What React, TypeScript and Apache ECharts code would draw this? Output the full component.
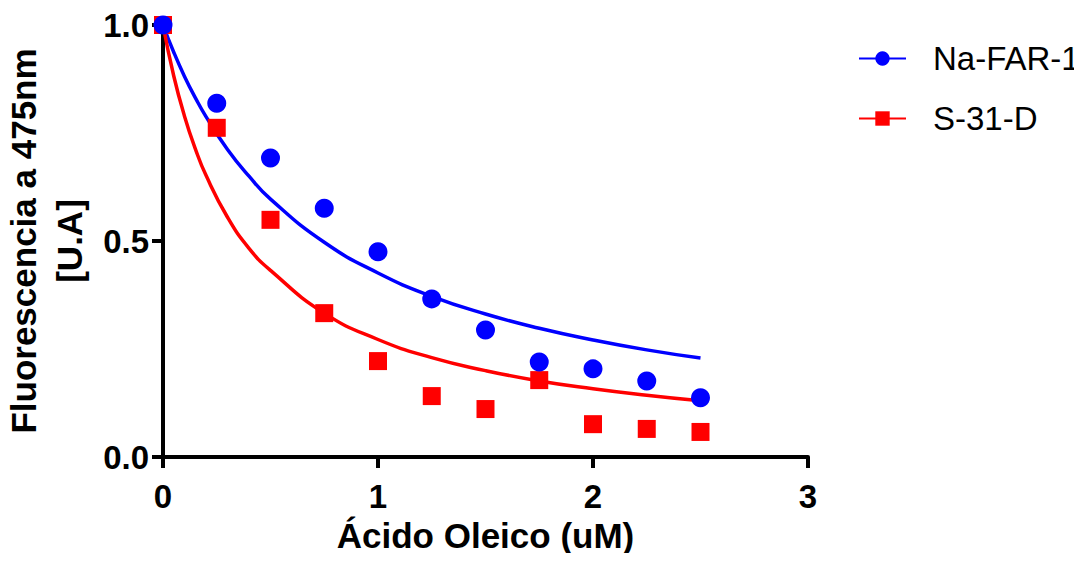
import React, { useEffect, useRef } from "react";
import * as echarts from "echarts";

const concentrations = [0, 0.25, 0.5, 0.75, 1, 1.25, 1.5, 1.75, 2, 2.25, 2.5];
const naFar1 = [1.0, 0.819, 0.692, 0.576, 0.475, 0.366, 0.294, 0.22, 0.204, 0.176, 0.137];
const s31d = [1.0, 0.762, 0.549, 0.333, 0.222, 0.141, 0.111, 0.178, 0.076, 0.065, 0.058];

const fitX = [0, 0.05, 0.1, 0.15, 0.2, 0.3, 0.4, 0.5, 0.75, 1, 1.25, 1.5, 1.75, 2, 2.25, 2.5];
const naFar1Fit = [1.0, 0.937, 0.881, 0.832, 0.788, 0.712, 0.65, 0.597, 0.497, 0.426, 0.372, 0.331, 0.298, 0.271, 0.248, 0.229];
const s31dFit = [1.0, 0.882, 0.789, 0.714, 0.652, 0.555, 0.483, 0.432, 0.333, 0.272, 0.23, 0.2, 0.176, 0.158, 0.143, 0.13];

const xTicks = [0, 1, 2, 3];
const yTicks = [0, 0.5, 1.0];

const BLUE = "#0000ff";
const RED = "#ff0000";
const FONT = "Arial, 'Liberation Sans', sans-serif";

export default function App() {
  const ref = useRef<HTMLDivElement>(null);
  useEffect(() => {
    if (!ref.current) return;
    const chart = echarts.init(ref.current, null, { renderer: "svg" });
    const pair = (xs: number[], ys: number[]) => xs.map((x, i) => [x, ys[i]]);
    chart.setOption({
      animation: false,
      backgroundColor: "#ffffff",
      grid: { left: 163, top: 25, right: 274, bottom: 104, containLabel: false, outerBoundsMode: "none" },
      legend: {
        data: ["Na-FAR-1", "S-31-D"],
        orient: "vertical",
        left: 853,
        top: 37,
        itemWidth: 47,
        itemHeight: 18,
        itemGap: 27,
        textStyle: { fontFamily: FONT, fontSize: 33, color: "#000", padding: [0, 0, 0, 22] },
      },
      xAxis: {
        type: "value",
        min: 0,
        max: 3,
        interval: 1,
        name: "Ácido Oleico (uM)",
        nameLocation: "middle",
        nameGap: 53,
        nameTextStyle: { fontFamily: FONT, fontSize: 35, fontWeight: "bold", color: "#000" },
        axisLine: { show: true, onZero: false, lineStyle: { color: "#000", width: 4 } },
        axisTick: { show: true, inside: false, length: 11, lineStyle: { color: "#000", width: 4 } },
        axisLabel: {
          fontFamily: FONT, fontSize: 33, fontWeight: "bold", color: "#000", margin: 23,
          formatter: (v: number) => (xTicks.includes(v) ? String(v) : ""),
        },
        splitLine: { show: false },
      },
      yAxis: {
        type: "value",
        min: 0,
        max: 1,
        interval: 0.5,
        name: "Fluorescencia a 475nm\n[U.A]",
        nameLocation: "middle",
        nameRotate: 90,
        nameGap: 62,
        nameTextStyle: { fontFamily: FONT, fontSize: 35, fontWeight: "bold", color: "#000", lineHeight: 46 },
        axisLine: { show: true, onZero: false, lineStyle: { color: "#000", width: 4 } },
        axisTick: { show: true, inside: false, length: 11, lineStyle: { color: "#000", width: 4 } },
        axisLabel: {
          fontFamily: FONT, fontSize: 33, fontWeight: "bold", color: "#000", margin: 14,
          formatter: (v: number) => (yTicks.some((t) => Math.abs(t - v) < 1e-9) ? v.toFixed(1) : ""),
        },
        splitLine: { show: false },
      },
      series: [
        {
          name: "Na-FAR-1",
          type: "line",
          data: pair(fitX, naFar1Fit),
          smooth: true,
          symbol: "circle",
          symbolSize: 19,
          showSymbol: false,
          lineStyle: { color: BLUE, width: 3.5 },
          itemStyle: { color: BLUE },
          z: 2,
        },
        {
          name: "S-31-D",
          type: "line",
          data: pair(fitX, s31dFit),
          smooth: true,
          symbol: "rect",
          symbolSize: 18,
          showSymbol: false,
          lineStyle: { color: RED, width: 3.5 },
          itemStyle: { color: RED },
          z: 2,
        },
        {
          name: "Na-FAR-1",
          type: "scatter",
          data: pair(concentrations, naFar1),
          symbol: "circle",
          symbolSize: 19,
          itemStyle: { color: BLUE, opacity: 1 },
          z: 4,
        },
        {
          name: "S-31-D",
          type: "scatter",
          data: pair(concentrations, s31d),
          symbol: "rect",
          symbolSize: 18,
          itemStyle: { color: RED, opacity: 1 },
          z: 3,
        },
      ],
    });
    return () => chart.dispose();
  }, []);
  return <div ref={ref} style={{ width: 1082, height: 561, margin: -8 }} />;
}
